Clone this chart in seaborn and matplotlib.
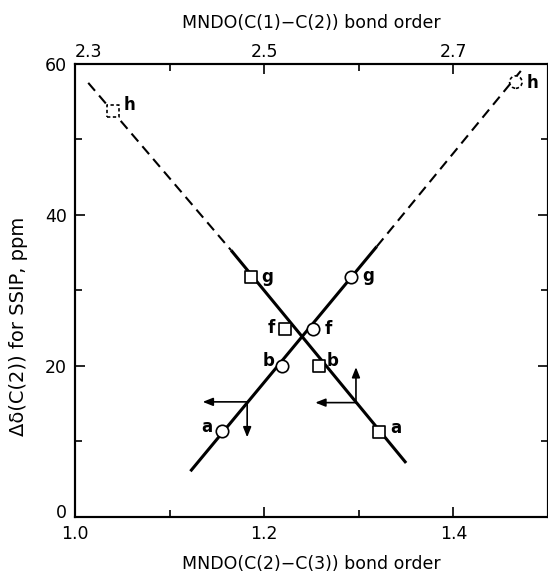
import numpy as np
import pandas as pd
import matplotlib
matplotlib.use("Agg")
import matplotlib.pyplot as plt
import matplotlib.transforms as mtransforms
import seaborn as sns
from matplotlib.ticker import MultipleLocator, FixedLocator

# ---------------- data ----------------
# circles: plotted against MNDO C(2)-C(3) bond order (bottom axis)
circle_labels = ["a", "b", "f", "g", "h"]
circle_x = [1.155, 1.219, 1.252, 1.292, 1.466]
circle_y = [11.3, 20.0, 24.8, 31.7, 57.6]
# squares: plotted against MNDO C(1)-C(2) bond order (top axis)
square_labels = ["h", "g", "f", "b", "a"]
square_x = [2.340, 2.486, 2.522, 2.558, 2.621]
square_y = [53.8, 31.8, 24.8, 20.0, 11.2]

# correlation lines (solid = fitted range, dashed = extrapolation)
circle_solid_x = [1.122, 1.319]
circle_solid_y = [6.0, 35.8]
circle_dash_x = [1.319, 1.474]
circle_dash_y = [35.8, 59.5]
square_solid_x = [2.465, 2.650]
square_solid_y = [35.3, 7.1]
square_dash_x = [2.314, 2.465]
square_dash_y = [57.5, 35.3]

# axis-indicating arrows (origin -> tips)
circle_arrow_origin = (1.182, 15.2)
circle_arrow_tips = [(1.135, 15.2), (1.182, 10.5)]
square_arrow_origin = (2.597, 15.1)
square_arrow_tips = [(2.554, 15.1), (2.597, 19.8)]

bottom_ticks = [1.0, 1.2, 1.4]
bottom_tick_labels = ["1.0", "1.2", "1.4"]
top_ticks = [2.3, 2.5, 2.7]
top_tick_labels = ["2.3", "2.5", "2.7"]
y_ticks = [0, 20, 40, 60]

# ---------------- styling ----------------
sns.set_theme(style="ticks")
plt.rcParams["font.family"] = ["DejaVu Sans"]
plt.rcParams["text.color"] = "black"
plt.rcParams["axes.labelcolor"] = "black"

fig = plt.figure(figsize=(5.48, 5.73), dpi=100)
ax = fig.add_axes([75 / 548, (573 - 516.5) / 573, (548 - 75) / 548, (516.5 - 64) / 573])
ax2 = ax.twiny()

ax.set_xlim(1.0, 1.5)
ax.set_ylim(0, 60)
ax2.set_xlim(2.3, 2.8)

circ = pd.DataFrame({"x": circle_x, "y": circle_y, "lab": circle_labels})
sq = pd.DataFrame({"x": square_x, "y": square_y, "lab": square_labels})

line_kw = dict(color="black", linewidth=2.2, solid_capstyle="butt")
dash_kw = dict(color="black", linewidth=1.5, dashes=(5, 3))

# circle line (bottom axis)
sns.lineplot(x=circle_solid_x, y=circle_solid_y, ax=ax, **line_kw)
ax.plot(circle_dash_x, circle_dash_y, **dash_kw)
# square line (top axis)
sns.lineplot(x=square_solid_x, y=square_solid_y, ax=ax2, **line_kw)
ax2.plot(square_dash_x, square_dash_y, **dash_kw)

solid_c = circ[circ["lab"] != "h"]
dash_c = circ[circ["lab"] == "h"]
solid_s = sq[sq["lab"] != "h"]
dash_s = sq[sq["lab"] == "h"]

sns.scatterplot(data=solid_c, x="x", y="y", ax=ax, marker="o", s=80,
                color="white", edgecolor="black", linewidth=1.2, zorder=5)
sns.scatterplot(data=dash_c, x="x", y="y", ax=ax, marker="o", s=80,
                color="white", edgecolor="black", linewidth=1.2, zorder=5,
                linestyles=[(0, (2, 1.5))])
sns.scatterplot(data=solid_s, x="x", y="y", ax=ax2, marker="s", s=70,
                color="white", edgecolor="black", linewidth=1.2, zorder=5)
sns.scatterplot(data=dash_s, x="x", y="y", ax=ax2, marker="s", s=70,
                color="white", edgecolor="black", linewidth=1.2, zorder=5,
                linestyles=[(0, (2, 1.5))])

# point letters
circle_offsets = {"a": (-11, 3), "b": (-10, 3), "f": (11, 0), "g": (12, 1), "h": (12, -1)}
square_offsets = {"h": (12, 4), "g": (12, 0), "f": (-10, 1), "b": (10, 3), "a": (12, 3)}
for _, r in circ.iterrows():
    ax.annotate(r["lab"], (r["x"], r["y"]), xytext=circle_offsets[r["lab"]],
                textcoords="offset points", ha="center", va="center",
                fontsize=12, fontweight="bold", color="black", zorder=6)
for _, r in sq.iterrows():
    ax2.annotate(r["lab"], (r["x"], r["y"]), xytext=square_offsets[r["lab"]],
                 textcoords="offset points", ha="center", va="center",
                 fontsize=12, fontweight="bold", color="black", zorder=6)

arrow_kw = dict(arrowstyle="-|>,head_length=0.5,head_width=0.2", color="black",
                lw=1.2, shrinkA=0, shrinkB=0)
for tip in circle_arrow_tips:
    ax.annotate("", xy=tip, xytext=circle_arrow_origin, arrowprops=arrow_kw)
for tip in square_arrow_tips:
    ax2.annotate("", xy=tip, xytext=square_arrow_origin, arrowprops=arrow_kw)

# ticks
ax.xaxis.set_major_locator(FixedLocator(bottom_ticks))
ax.set_xticklabels(bottom_tick_labels)
ax.xaxis.set_minor_locator(MultipleLocator(0.1))
ax.yaxis.set_major_locator(FixedLocator(y_ticks))
ax.yaxis.set_minor_locator(MultipleLocator(10))
ax2.xaxis.set_major_locator(FixedLocator(top_ticks))
ax2.set_xticklabels(top_tick_labels)
ax2.xaxis.set_minor_locator(FixedLocator([2.4, 2.6]))

ax.tick_params(axis="both", which="both", direction="in", top=False, right=True,
               width=1.2, labelsize=12.5, colors="black")
ax.tick_params(axis="both", which="major", length=7)
ax.tick_params(axis="both", which="minor", length=5)
ax.tick_params(axis="x", pad=6)
ax.tick_params(axis="y", pad=6)
ax2.tick_params(axis="x", which="both", direction="in", top=True, bottom=False,
                width=1.2, labelsize=12.5, pad=2, colors="black")
ax2.tick_params(axis="x", which="major", length=7)
ax2.tick_params(axis="x", which="minor", length=5)

for a in (ax, ax2):
    for s in a.spines.values():
        s.set_visible(True)
        s.set_linewidth(1.5)
        s.set_color("black")

for lab in ax2.get_xticklabels():
    if lab.get_text() == "2.3":
        lab.set_ha("left")

# lift the "0" label a little so it clears the "1.0" label (as in the original)
up = mtransforms.ScaledTranslation(0, 4 / 72, fig.dpi_scale_trans)
for tick in ax.yaxis.get_major_ticks():
    if tick.get_loc() == 0:
        tick.label1.set_transform(tick.label1.get_transform() + up)

ax.set_xlabel("MNDO(C(2)\u2212C(3)) bond order", fontsize=12.5, labelpad=9)
ax2.set_xlabel("MNDO(C(1)\u2212C(2)) bond order", fontsize=12.5, labelpad=11)
ax.set_ylabel("\u0394\u03b4(C(2)) for SSIP, ppm", fontsize=14)
ax.yaxis.set_label_coords(-0.1, 0.42)

fig.savefig("out.png", dpi=100)
